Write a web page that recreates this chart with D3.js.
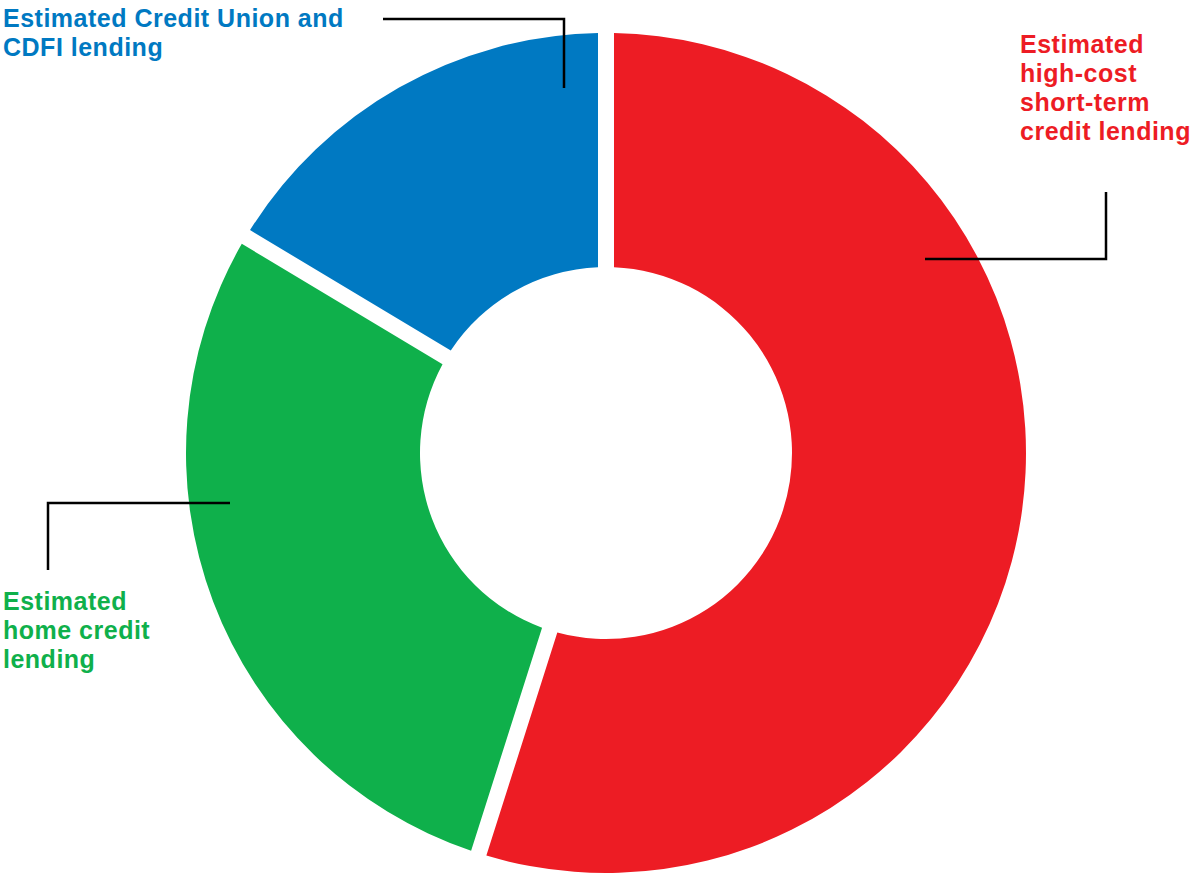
<!DOCTYPE html>
<html>
<head>
<meta charset="utf-8">
<script src="https://cdn.jsdelivr.net/npm/d3@7"></script>
<style>
  html, body { margin: 0; padding: 0; background: #fff; }
  svg { display: block; }
  .lbl { font-family: "Liberation Sans", Arial, sans-serif; font-weight: bold; font-size: 25px; letter-spacing: 0.5px; }
</style>
</head>
<body>
<svg id="chart" width="1195" height="876"></svg>
<script>
// share of lending (clockwise from 12 o'clock)
var categories = ['Estimated high-cost short-term credit lending', 'Estimated home credit lending', 'Estimated Credit Union and CDFI lending'];
var values = [54.9, 28.7, 16.4];
var colors = ['#ED1C24', '#0FB04B', '#0079C2'];

// label lines per slice
var labelLines = [
  ['Estimated', 'high-cost', 'short-term', 'credit lending'],
  ['Estimated', 'home credit', 'lending'],
  ['Estimated Credit Union and', 'CDFI lending']
];

var svg = d3.select('#chart');
var cx = 606, cy = 453;
var outerR = 420, innerR = 186;

var pie = d3.pie().sort(null).value(function(d){ return d; });
var gap = 16;
var arc = d3.arc()
  .innerRadius(innerR)
  .outerRadius(outerR)
  .padRadius(outerR)
  .padAngle(2 * Math.asin(gap / 2 / outerR));

var g = svg.append('g').attr('transform', 'translate(' + cx + ',' + cy + ')');

g.selectAll('path')
  .data(pie(values))
  .enter()
  .append('path')
    .attr('d', arc)
    .attr('fill', function(d, i){ return colors[i]; });

// leader lines (elbow callouts)
var leaders = [
  [[925, 259], [1106, 259], [1106, 192]],
  [[230, 503], [48, 503], [48, 570]],
  [[383, 19], [564, 19], [564, 88]]
];
var line = d3.line();
svg.selectAll('path.leader')
  .data(leaders)
  .enter()
  .append('path')
    .attr('class', 'leader')
    .attr('d', line)
    .attr('fill', 'none')
    .attr('stroke', '#000')
    .attr('stroke-width', 2.5);

// label positions: x, first baseline, line height
var labelPos = [
  {x: 1020, y: 53, lh: 29},
  {x: 3, y: 610, lh: 29},
  {x: 3, y: 27, lh: 29}
];

labelLines.forEach(function(lines, i){
  var t = svg.append('text')
    .attr('class', 'lbl')
    .attr('fill', colors[i])
    .attr('x', labelPos[i].x)
    .attr('y', labelPos[i].y);
  lines.forEach(function(s, j){
    t.append('tspan')
      .attr('x', labelPos[i].x)
      .attr('dy', j === 0 ? 0 : labelPos[i].lh)
      .text(s);
  });
});
</script>
</body>
</html>
